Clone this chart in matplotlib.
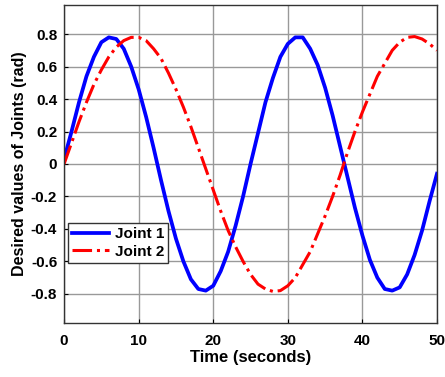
import matplotlib
matplotlib.use("Agg")
import matplotlib.pyplot as plt

plt.rcParams['font.family'] = ['Liberation Sans', 'DejaVu Sans']
plt.rcParams['font.weight'] = 'bold'

time = list(range(0, 51))
joint1 = [0.03, 0.20, 0.38, 0.54, 0.66, 0.75, 0.78, 0.77, 0.71, 0.60, 0.46,
          0.29, 0.10, -0.10, -0.29, -0.46, -0.60, -0.71, -0.77, -0.78, -0.75,
          -0.66, -0.54, -0.38, -0.20, 0.00, 0.19, 0.38, 0.53, 0.66, 0.74,
          0.78, 0.78, 0.71, 0.61, 0.47, 0.30, 0.11, -0.08, -0.27, -0.44,
          -0.59, -0.70, -0.77, -0.78, -0.76, -0.68, -0.56, -0.41, -0.23, -0.06]
joint2 = [0.00, 0.13, 0.26, 0.38, 0.49, 0.58, 0.66, 0.72, 0.76, 0.78, 0.78,
          0.76, 0.71, 0.65, 0.56, 0.46, 0.35, 0.23, 0.10, -0.03, -0.16,
          -0.29, -0.41, -0.51, -0.60, -0.68, -0.74, -0.77, -0.785, -0.78, -0.75,
          -0.70, -0.62, -0.54, -0.43, -0.32, -0.20, -0.07, 0.07, 0.20, 0.32,
          0.43, 0.54, 0.62, 0.70, 0.75, 0.78, 0.785, 0.77, 0.74, 0.70]

xticks = [0, 10, 20, 30, 40, 50]
yticks = [-0.8, -0.6, -0.4, -0.2, 0, 0.2, 0.4, 0.6, 0.8]
yticklabels = ['-0.8', '-0.6', '-0.4', '-0.2', '0', '0.2', '0.4', '0.6', '0.8']

fig = plt.figure(figsize=(4.45, 3.77), dpi=100)
ax = fig.add_axes([0.144, 0.143, 0.838, 0.844])

ax.plot(time, joint1, color='#0000ff', lw=2.7, label='Joint 1')
ax.plot(time, joint2, color='#ff0000', lw=2.2, linestyle='-.', label='Joint 2')

ax.set_xlim(0, 50)
ax.set_ylim(-0.98, 0.98)
ax.set_xticks(xticks)
ax.set_yticks(yticks)
ax.set_yticklabels(yticklabels)
ax.tick_params(direction='in', labelsize=11, length=3)
ax.tick_params(axis='y', pad=5)
ax.tick_params(axis='x', pad=8)
for lab in ax.get_xticklabels() + ax.get_yticklabels():
    lab.set_fontweight('bold')
ax.grid(True, color='#999999', lw=1.0)
ax.set_axisbelow(True)
for sp in ax.spines.values():
    sp.set_color('#333333')
    sp.set_linewidth(1.0)

ax.set_xlabel('Time (seconds)', fontsize=12, fontweight='bold', labelpad=1)
ax.set_ylabel('Desired values of Joints (rad)', fontsize=11.5, fontweight='bold', labelpad=3)

leg = ax.legend(loc='lower left', bbox_to_anchor=(0.011, 0.19), borderaxespad=0,
                fancybox=False, edgecolor='#333333', framealpha=1,
                prop={'size': 11, 'weight': 'bold'}, handlelength=2.4,
                borderpad=0.25, labelspacing=0.25, handletextpad=0.4)
leg.get_frame().set_linewidth(1.0)

fig.savefig('out.png', dpi=100)
